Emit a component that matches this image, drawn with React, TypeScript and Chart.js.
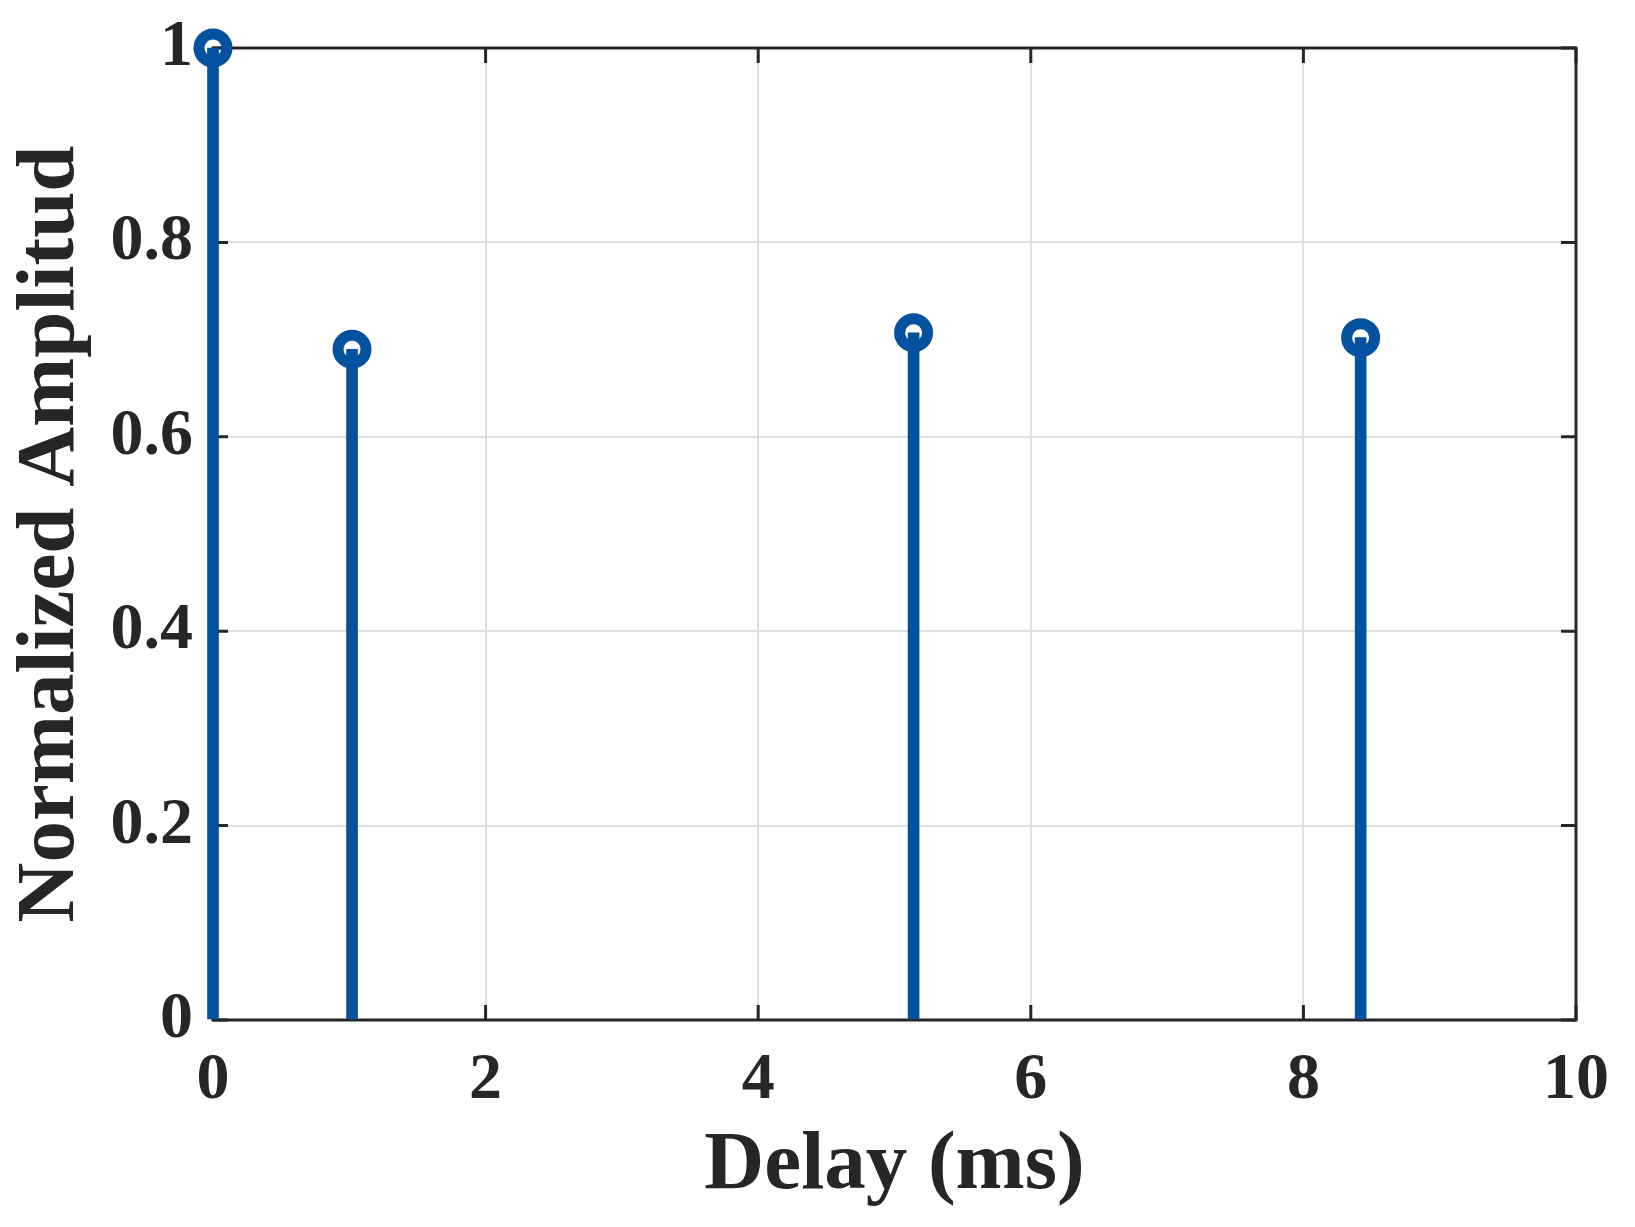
import React, { useEffect, useRef } from "react";
import { Chart, registerables } from "chart.js";

Chart.register(...registerables);

const delaysMs = [0, 1.02, 5.14, 8.42];
const amplitudes = [1, 0.69, 0.707, 0.702];
const xTickLabels = ["0", "2", "4", "6", "8", "10"];
const yTickLabels = ["0", "0.2", "0.4", "0.6", "0.8", "1"];
const xTitle = "Delay (ms)";
const yTitle = "Normalized Amplitud";

const W = 1635;
const H = 1227;
const AREA = { left: 213, right: 1576, top: 48, bottom: 1020 };
const STEM = "#0451a0";
const INK = "#262626";
const FAMILY = "'Liberation Serif', 'Times New Roman', serif";

const boxPlugin = {
  id: "matlabBox",
  beforeDatasetsDraw(chart: any) {
    const { ctx, chartArea: a, scales } = chart;
    ctx.save();
    ctx.strokeStyle = INK;
    ctx.lineWidth = 3;
    ctx.strokeRect(a.left, a.top, a.right - a.left, a.bottom - a.top);
    const tl = 15;
    ctx.beginPath();
    scales.x.ticks.forEach((t: any) => {
      const px = scales.x.getPixelForValue(t.value);
      ctx.moveTo(px, a.bottom);
      ctx.lineTo(px, a.bottom - tl);
      ctx.moveTo(px, a.top);
      ctx.lineTo(px, a.top + tl);
    });
    scales.y.ticks.forEach((t: any) => {
      const py = scales.y.getPixelForValue(t.value);
      ctx.moveTo(a.left, py);
      ctx.lineTo(a.left + tl, py);
      ctx.moveTo(a.right, py);
      ctx.lineTo(a.right - tl, py);
    });
    ctx.stroke();
    ctx.restore();
  },
};

export default function App() {
  const ref = useRef<HTMLCanvasElement | null>(null);

  useEffect(() => {
    if (!ref.current) return;
    const pts = delaysMs.map((x, i) => ({ x, y: amplitudes[i] }));
    const chart = new Chart(ref.current, {
      type: "bar",
      data: {
        datasets: [
          {
            type: "bar",
            data: pts,
            backgroundColor: STEM,
            borderWidth: 0,
            barThickness: 11,
            order: 0,
            clip: false,
          } as any,
          {
            type: "scatter",
            data: pts,
            backgroundColor: "rgba(0,0,0,0)",
            borderColor: STEM,
            borderWidth: 11,
            pointRadius: 14,
            pointHoverRadius: 14,
            showLine: false,
            order: 1,
            clip: false,
          } as any,
        ],
      },
      plugins: [boxPlugin],
      options: {
        responsive: false,
        animation: false,
        events: [],
        layout: {
          padding: { left: 0, top: AREA.top, right: W - AREA.right, bottom: 0 },
        },
        plugins: {
          legend: { display: false },
          tooltip: { enabled: false },
        },
        scales: {
          x: {
            type: "linear",
            min: 0,
            max: 10,
            offset: false,
            afterFit: (s: any) => {
              s.height = H - AREA.bottom;
              s.paddingLeft = 0;
              s.paddingRight = 0;
            },
            ticks: {
              stepSize: 2,
              autoSkip: false,
              maxRotation: 0,
              padding: 21,
              color: INK,
              font: { family: FAMILY, size: 66, weight: "bold" },
              callback: (_v: any, i: number) => xTickLabels[i],
            },
            grid: {
              offset: false,
              color: "#dfdfdf",
              lineWidth: 2,
              drawTicks: false,
            },
            border: { display: false },
            title: {
              display: true,
              text: xTitle,
              color: INK,
              padding: { top: 0, bottom: 11 },
              font: { family: FAMILY, size: 83, weight: "bold" },
            },
          },
          y: {
            type: "linear",
            min: 0,
            max: 1,
            afterFit: (s: any) => {
              s.width = AREA.left;
              s.paddingTop = 0;
              s.paddingBottom = 0;
            },
            ticks: {
              stepSize: 0.2,
              autoSkip: false,
              padding: 20,
              color: INK,
              font: { family: FAMILY, size: 66, weight: "bold" },
              callback: (_v: any, i: number) => yTickLabels[i],
            },
            grid: {
              color: "#dfdfdf",
              lineWidth: 2,
              drawTicks: false,
            },
            border: { display: false },
            title: {
              display: true,
              text: yTitle,
              color: INK,
              padding: { top: 2, bottom: 0 },
              font: { family: FAMILY, size: 83, weight: "bold" },
            },
          },
        },
      } as any,
    });
    return () => chart.destroy();
  }, []);

  return (
    <div
      style={{
        position: "fixed",
        left: 0,
        top: 0,
        width: W,
        height: H,
        background: "#ffffff",
      }}
    >
      <canvas ref={ref} width={W} height={H} style={{ width: W, height: H, display: "block" }} />
    </div>
  );
}
